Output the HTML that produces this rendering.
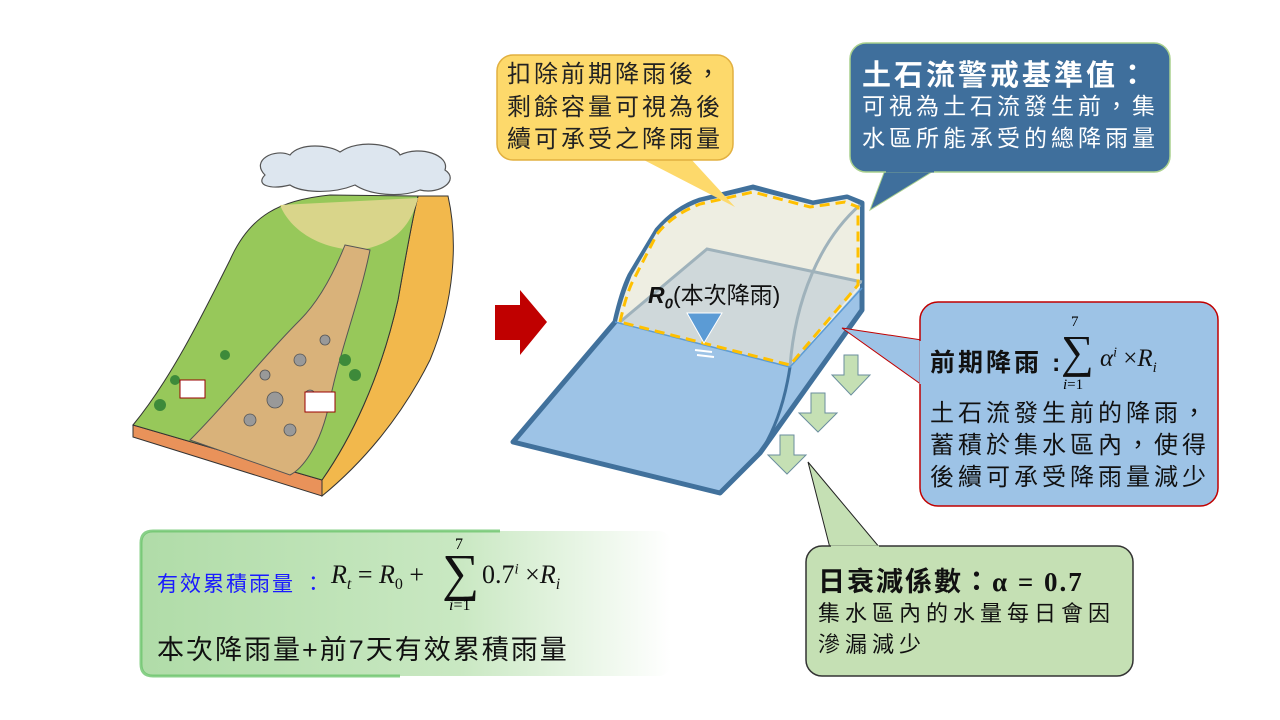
<!DOCTYPE html>
<html><head><meta charset="utf-8"><style>
body{margin:0;width:1280px;height:720px;background:#fff;position:relative;overflow:hidden;font-family:"Liberation Sans","Noto Sans CJK TC",sans-serif}
.t{position:absolute;white-space:nowrap}
.m{font-family:"Liberation Serif",serif}
</style></head><body>
<svg width="1280" height="720" style="position:absolute;left:0;top:0">
<defs>
<linearGradient id="gg" x1="0" x2="1"><stop offset="0" stop-color="#b0dca8"/><stop offset="0.6" stop-color="#c9e8c2"/><stop offset="1" stop-color="#fff"/></linearGradient>
</defs>
<!-- left illustration -->
<path d="M133,425 L133,437 L322,496 L322,480 Z" fill="#e9925a" stroke="#333" stroke-width="1"/>
<path d="M322,496 L322,480 C350,440 380,380 398,300 C405,260 412,220 418,196 L448,196 C458,240 455,300 430,360 C400,420 360,465 322,496Z" fill="#f2b84c" stroke="#333" stroke-width="1"/>
<path d="M133,425 C170,380 200,320 230,260 C250,215 280,200 330,195 L418,196 C412,220 405,260 398,300 C380,380 350,440 322,480 Z" fill="#97c85a" stroke="#333" stroke-width="1"/>
<path d="M280,205 L418,198 C410,230 390,245 360,250 C320,250 290,230 280,205Z" fill="#d9d58a"/>
<path d="M345,245 L370,250 C360,300 340,350 330,400 C320,450 300,470 290,475 L190,440 C230,400 260,360 300,320 C320,300 335,270 345,245Z" fill="#d9b27a" stroke="#555" stroke-width="1"/>
<g fill="#999" stroke="#555" stroke-width="0.8">
<circle cx="300" cy="360" r="6"/><circle cx="275" cy="400" r="8"/><circle cx="250" cy="420" r="6"/><circle cx="310" cy="395" r="5"/><circle cx="265" cy="375" r="5"/><circle cx="290" cy="430" r="6"/><circle cx="325" cy="340" r="5"/></g>
<g fill="#3d8a3a"><circle cx="345" cy="360" r="6"/><circle cx="355" cy="375" r="6"/><circle cx="160" cy="405" r="6"/><circle cx="175" cy="380" r="5"/><circle cx="225" cy="355" r="5"/></g>
<rect x="180" y="380" width="25" height="18" fill="#fff" stroke="#900"/><rect x="305" y="392" width="30" height="20" fill="#fff" stroke="#900"/>
<path d="M265,175 C250,160 275,148 290,155 C300,142 330,145 340,152 C360,138 395,145 400,155 C420,145 450,155 445,170 C460,180 440,195 420,190 C400,198 370,195 355,185 C330,195 300,192 290,185 C270,190 255,185 265,175Z" fill="#dde6ef" stroke="#555" stroke-width="1.2"/>
<!-- red arrow -->
<path d="M495,305 L520,305 L520,290 L547,322 L520,355 L520,340 L495,340Z" fill="#c00000"/>
<!-- middle diagram -->
<path d="M513,442 L615,322 C620,300 625,285 630,275 L657,230 C670,215 685,205 700,200 L753,187 L813,203 L847,197 L862,203 L862,310 L760,453 L720,493 Z" fill="#9dc3e6" stroke="#41719c" stroke-width="5" stroke-linejoin="round"/>
<path d="M617,322 C622,300 628,285 632,275 L657,232 C670,216 685,208 700,202 L753,190 L813,205 L847,199 L860,205 L860,288 L790,367 Z" fill="#eeeee2"/>
<path d="M620,322 L707,249 L862,282 L790,367 Z" fill="#cfd8da"/>
<path d="M620,322 L707,249 L862,282" fill="none" stroke="#9fb2bb" stroke-width="3"/>
<path d="M790,367 C795,300 820,240 860,205" fill="none" stroke="#9fb2bb" stroke-width="3"/>
<path d="M790,367 C785,400 775,430 760,453" fill="none" stroke="#41719c" stroke-width="3"/>
<path d="M615,322 L790,367 L862,288" fill="none" stroke="#5b9bd5" stroke-width="1.5"/>
<path d="M620,322 C625,300 630,285 635,277 L657,234 C670,218 685,210 700,204 L753,192 L810,207 L845,202 L858,207 L858,285 L790,365 Z" fill="none" stroke="#ffc000" stroke-width="3" stroke-dasharray="10,6"/>
<path d="M687,313 L722,313 L704,343Z" fill="#5b9bd5" stroke="#fff" stroke-width="1"/>
<path d="M695,350 L712,352 M697,355 L714,357" stroke="#fff" stroke-width="2"/>
<!-- green down arrows -->
<g fill="#c5e0b4" stroke="#6a8e9e" stroke-width="1">
<path d="M844,355 L858,355 L858,375 L870,375 L851,395 L832,375 L844,375Z"/>
<path d="M811,393 L825,393 L825,413 L837,413 L818,432 L799,413 L811,413Z"/>
<path d="M780,435 L794,435 L794,455 L806,455 L787,474 L768,455 L780,455Z"/>
</g>
<!-- callouts -->
<path d="M640,158 L690,158 L735,207Z" fill="#fdd96b"/>
<rect x="497" y="55" width="236" height="105" rx="16" fill="#fdd96b" stroke="#e2b040" stroke-width="1.5"/>
<path d="M640,157 L690,157" stroke="#fdd96b" stroke-width="3"/>
<path d="M885,170 L935,170 L870,210Z" fill="#3f6f9c" stroke="#a9d08e" stroke-width="1"/>
<rect x="850" y="43" width="320" height="129" rx="16" fill="#3f6f9c" stroke="#a9d08e" stroke-width="1.5"/>
<path d="M886,171 L934,171" stroke="#3f6f9c" stroke-width="3"/>
<path d="M922,340 L922,385 L842,328Z" fill="#9dc3e6" stroke="#c00000" stroke-width="1"/>
<rect x="920" y="302" width="298" height="204" rx="18" fill="#9dc3e6" stroke="#c00000" stroke-width="1.5"/>
<path d="M921,341 L921,384" stroke="#9dc3e6" stroke-width="3"/>
<path d="M830,548 L880,548 L808,462Z" fill="#c5e0b4" stroke="#222" stroke-width="1"/>
<rect x="806" y="546" width="327" height="130" rx="16" fill="#c5e0b4" stroke="#333" stroke-width="1.5"/>
<path d="M831,547 L879,547" stroke="#c5e0b4" stroke-width="3"/>
<rect x="141" y="531" width="530" height="145" rx="12" fill="url(#gg)"/>
<path d="M500,531 L153,531 Q141,531 141,543 L141,664 Q141,676 153,676 L400,676" fill="none" stroke="#6cc46c" stroke-width="3" opacity="0.8"/>
</svg>
<div class="t" style="left:507px;top:59px;font-size:24px;line-height:32.5px;letter-spacing:3px;color:#222">扣除前期降雨後，<br>剩餘容量可視為後<br>續可承受之降雨量</div>
<div class="t" style="left:862px;top:52px;font-size:29px;font-weight:bold;color:#fff;letter-spacing:3px">土石流警戒基準值：</div>
<div class="t" style="left:862px;top:90px;font-size:23px;line-height:32px;letter-spacing:4px;color:#fff">可視為土石流發生前，集<br>水區所能承受的總降雨量</div>
<div class="t" style="left:648px;top:276px;font-size:23px;color:#111"><i style="font-weight:bold">R<sub style="font-size:15px">0</sub></i>(本次降雨)</div>
<div class="t" style="left:930px;top:343px;font-size:25px;font-weight:bold;letter-spacing:3px;color:#111">前期降雨 :</div>
<div class="t m" style="left:1061px;top:325px;font-size:46px;color:#111">∑</div>
<div class="t m" style="left:1071px;top:314px;font-size:15px">7</div>
<div class="t m" style="left:1063px;top:377px;font-size:15px"><i>i</i>=1</div>
<div class="t m" style="left:1100px;top:345px;font-size:25px;color:#111"><i>α</i><sup style="font-size:14px"><i>i</i></sup> ×<i>R</i><sub style="font-size:15px"><i>i</i></sub></div>
<div class="t" style="left:930px;top:398px;font-size:24px;line-height:32px;letter-spacing:4px;color:#111">土石流發生前的降雨，<br>蓄積於集水區內，使得<br>後續可承受降雨量減少</div>
<div class="t" style="left:818px;top:560px;font-size:27px;font-weight:bold;letter-spacing:2px;color:#111">日衰減係數：<span class="m">α = 0.7</span></div>
<div class="t" style="left:818px;top:598px;font-size:22px;line-height:31px;letter-spacing:5px;color:#111">集水區內的水量每日會因<br>滲漏減少</div>
<div class="t" style="left:157px;top:568px;font-size:21px;letter-spacing:2px;color:#1a1aff">有效累積雨量 ：</div>
<div class="t m" style="left:331px;top:560px;font-size:26px;color:#111"><i>R<sub style="font-size:16px">t</sub></i> = <i>R</i><sub style="font-size:16px">0</sub> +</div>
<div class="t m" style="left:442px;top:544px;font-size:52px;color:#111">∑</div>
<div class="t m" style="left:455px;top:536px;font-size:16px">7</div>
<div class="t m" style="left:449px;top:597px;font-size:16px"><i>i</i>=1</div>
<div class="t m" style="left:482px;top:560px;font-size:26px;color:#111">0.7<sup style="font-size:15px"><i>i</i></sup> ×<i>R</i><sub style="font-size:16px"><i>i</i></sub></div>
<div class="t" style="left:157px;top:628px;font-size:27px;letter-spacing:2px;color:#111">本次降雨量+前7天有效累積雨量</div>
</body></html>
